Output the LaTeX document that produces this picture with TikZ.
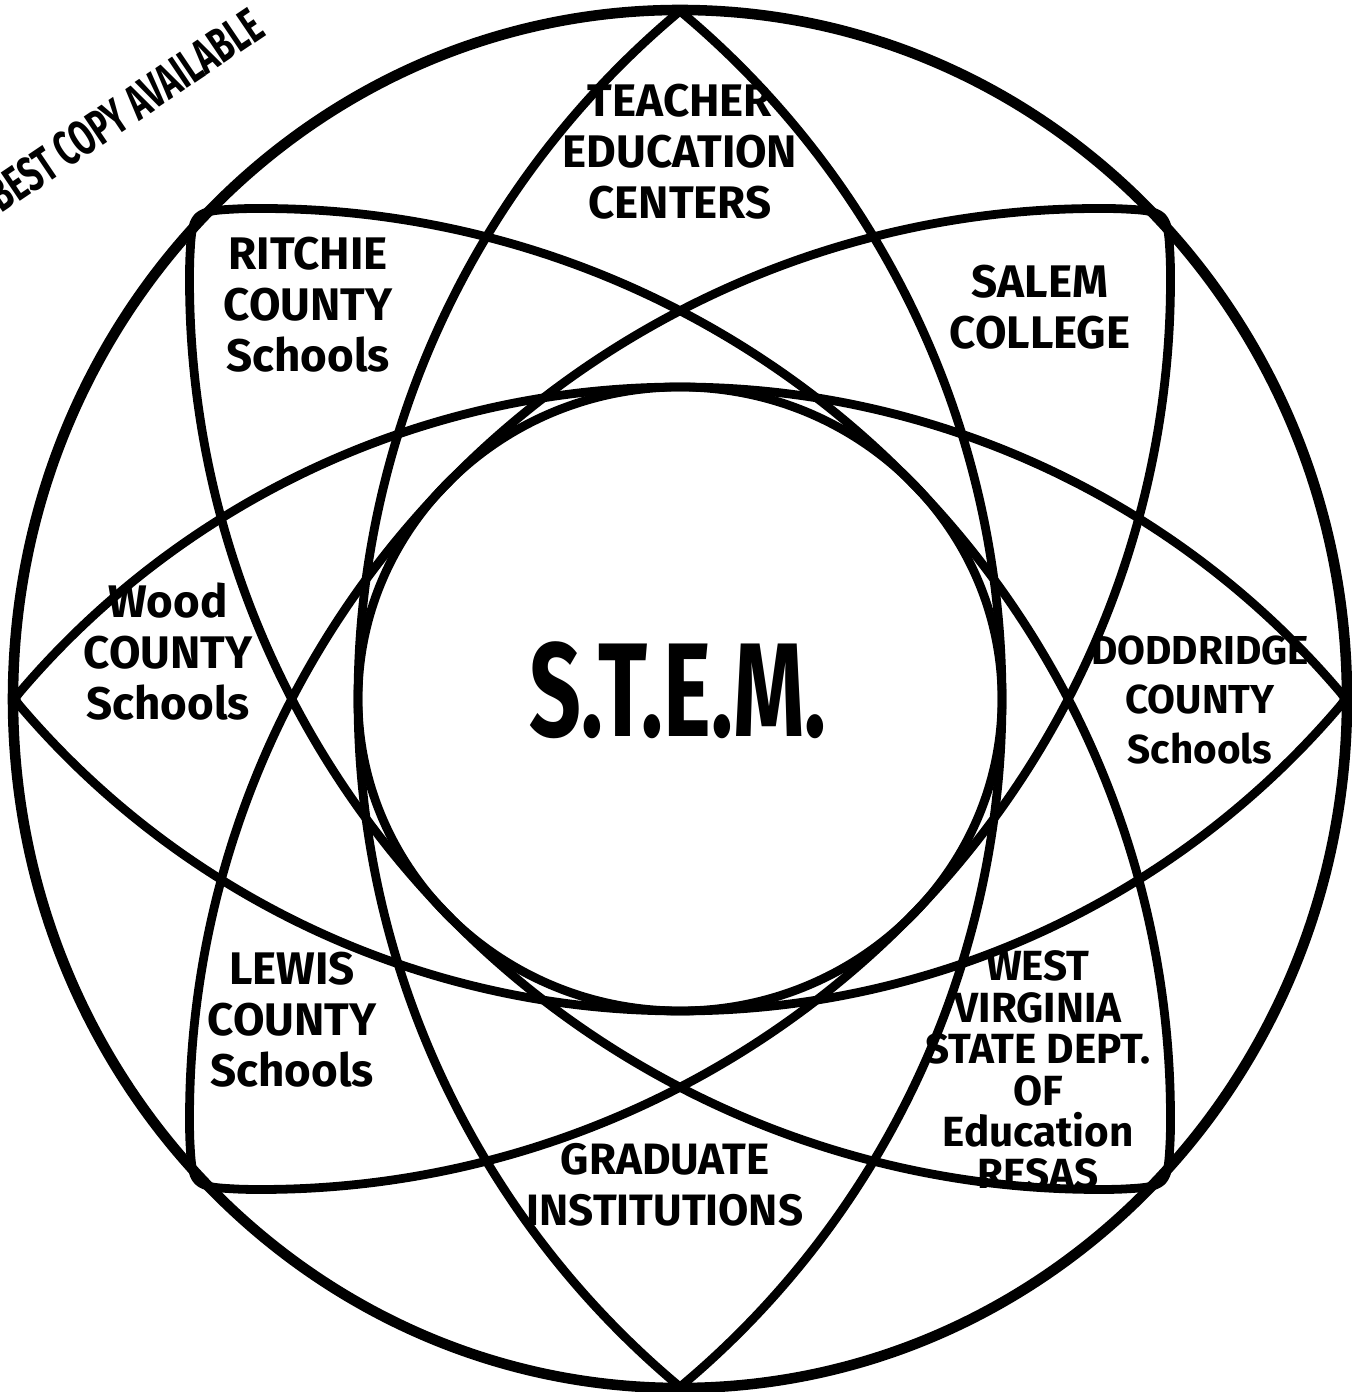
\documentclass[tikz,border=0pt]{standalone}
\usepackage{fontspec}
\setmainfont{Fira Sans}
\newcommand{\hand}{\fontsize{13}{14.5}\selectfont\bfseries}
\newcommand{\handsmall}{\fontsize{12}{11.8}\selectfont\bfseries}

\begin{document}
\begin{tikzpicture}[line join=round,line cap=round,
  ring/.style={line width=3pt},
  lens/.style={line width=2.5pt},
  group/.style={font=\hand,align=center,inner sep=1pt},
  stamp/.style={font=\fontsize{14}{14}\selectfont\bfseries,inner sep=0pt}]
\useasboundingbox (0,0) rectangle (13.51,13.92);
\coordinate (o) at (6.80,6.93);

% outer ring and the inner circle
\draw[ring] (o) ellipse[x radius=6.67,y radius=6.89];
\draw[lens] (o) ellipse[x radius=3.22,y radius=3.12];

% four lenses: angle / half length / half width / corner cut
\foreach \ang/\a/\s/\cut in {0/6.66/3.12/0.12,90/6.88/3.22/0,
                             45/6.9/3.17/0.5,135/6.9/3.17/0.5}{
  \pgfmathsetmacro\rad{(\a*\a+\s*\s)/(2*\s)}
  \pgfmathsetmacro\off{\rad-\s}
  \pgfmathsetmacro\tip{atan2(\off,\a)}
  \pgfmathsetmacro\del{\cut/\rad*180/pi}
  \pgfmathsetmacro\px{\rad*cos(\tip+\del)}
  \pgfmathsetmacro\py{\rad*sin(\tip+\del)-\off}
  \begin{scope}[shift={(o)},rotate=\ang]
    \draw[lens] (\px,\py)
      arc[start angle=\tip+\del,end angle=180-\tip-\del,radius=\rad]
      .. controls (-\a,0) .. (-\px,-\py)
      arc[start angle=180+\tip+\del,end angle=360-\tip-\del,radius=\rad]
      .. controls (\a,0) .. (\px,\py);
  \end{scope}
}

% the partners
\node[group] (tec) at (6.8,12.40) {TEACHER\\EDUCATION\\CENTERS};
\node[group] (ritchie) at (3.08,10.87) {RITCHIE\\COUNTY\\Schools};
\node[group] (salem) at (10.4,10.85) {SALEM\\COLLEGE};
\node[group] (wood) at (1.68,7.40) {Wood\\COUNTY\\Schools};
\node[group,font=\fontsize{11.5}{14}\selectfont\bfseries] (dodd) at (12.0,6.92)
  {DODDRIDGE\\COUNTY\\Schools};
\node[group] (lewis) at (2.92,3.72) {LEWIS\\COUNTY\\Schools};
\node[group,font=\handsmall] (wvde) at (10.38,3.22)
  {WEST\\VIRGINIA\\STATE DEPT.\\OF\\Education\\RESAS};
\node[group,font=\fontsize{12.5}{14.5}\selectfont\bfseries] (grad) at (6.65,2.07)
  {GRADUATE\\INSTITUTIONS};

\node[font=\fontsize{38}{38}\selectfont\bfseries] (stem) at (6.78,7.02)
  {\scalebox{0.68}[1]{S.T.E.M.}};

\node[stamp,rotate=34] (best) at (1.25,12.82)
  {\scalebox{0.66}[1]{BEST COPY AVAILABLE}};
\end{tikzpicture}
\end{document}
